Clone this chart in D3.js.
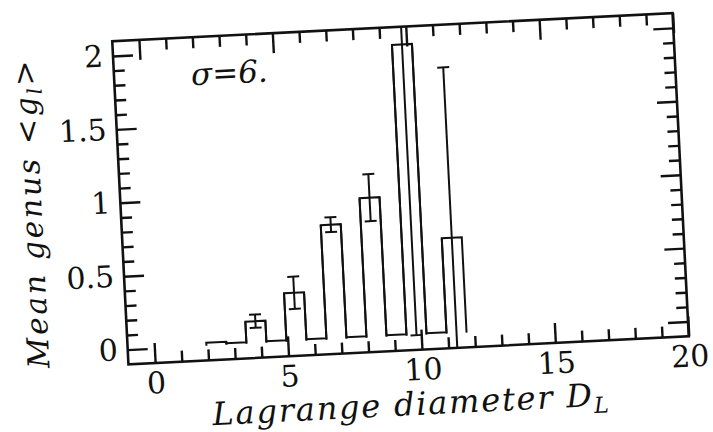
<!DOCTYPE html>
<html>
<head>
<meta charset="utf-8">
<script src="https://cdn.jsdelivr.net/npm/d3@7"></script>
<style>
  body { margin: 0; background: #fff; }
  text { font-family: "DejaVu Serif", serif; fill: #111; }
</style>
</head>
<body>
<svg id="chart" width="713" height="432"></svg>
<script>
// histogram bins along the Lagrange diameter
const binLo = [1.95, 2.7, 3.45, 4.2, 4.95, 5.7, 6.45, 7.2, 7.95, 8.7, 9.45, 10.2, 10.95];
const binHi = [2.7, 3.45, 4.2, 4.95, 5.7, 6.45, 7.2, 7.95, 8.7, 9.45, 10.2, 10.95, 11.7];
// mean genus per bin and its error
const meanGenus = [0.02, 0.01, 0.15, 0.01, 0.33, 0.01, 0.78, 0.01, 0.95, 0.01, 1.98, 0.01, 0.65];
const errGenus  = [0, 0, 0.045, 0, 0.11, 0, 0.05, 0, 0.16, 0, 1.98, 0, 1.16];
const xTickLabels = [0, 5, 10, 15, 20];
const yTickLabels = [0, 0.5, 1, 1.5, 2];

// scanned page is slightly tilted
const W = 561, H = 323.5,
      cx = 400.5, cy = 188.75,
      tilt = -2.87;

const svg = d3.select("#chart");
svg.append("rect").attr("width", 713).attr("height", 432).attr("fill", "#fff");

const g = svg.append("g")
    .attr("transform", `rotate(${tilt},${cx},${cy}) translate(${cx - W / 2},${cy - H / 2})`);

const x = d3.scaleLinear().domain([-1, 20]).range([0, W]);
const y = d3.scaleLinear().domain([-0.1, 2.1]).range([H, 0]);

//minor tick positions
const xMinor = d3.range(0, 20).filter(v => v % 5 !== 0);
const yMinor = d3.range(1, 21).map(v => v / 10).filter(v => Math.round(v * 10) % 5 !== 0);

function styleAxis(sel, fontSize) {
    sel.select(".domain").remove();
    sel.selectAll("line").attr("stroke", "#111").attr("stroke-width", 2.4);
    sel.attr("font-family", null).attr("font-size", fontSize);
    sel.selectAll("text").attr("fill", "#111");
}

//major axes (ticks inward)
g.append("g").attr("transform", `translate(0,${H})`)
    .call(d3.axisBottom(x).tickValues(xTickLabels).tickSize(-20).tickPadding(9).tickFormat(d3.format("d")))
    .call(s => styleAxis(s, 30));
g.append("g")
    .call(d3.axisTop(x).tickValues(xTickLabels).tickSize(-20).tickFormat(""))
    .call(s => styleAxis(s, 30));
g.append("g")
    .call(d3.axisLeft(y).tickValues(yTickLabels).tickSize(-20).tickPadding(10).tickFormat(d => String(d)))
    .call(s => styleAxis(s, 30));
g.append("g").attr("transform", `translate(${W},0)`)
    .call(d3.axisRight(y).tickValues(yTickLabels).tickSize(-20).tickFormat(""))
    .call(s => styleAxis(s, 30));

//minor axes
g.append("g").attr("transform", `translate(0,${H})`)
    .call(d3.axisBottom(x).tickValues(xMinor).tickSize(-11).tickFormat(""))
    .call(s => styleAxis(s, 30));
g.append("g")
    .call(d3.axisTop(x).tickValues(xMinor).tickSize(-11).tickFormat(""))
    .call(s => styleAxis(s, 30));
g.append("g")
    .call(d3.axisLeft(y).tickValues(yMinor).tickSize(-11).tickFormat(""))
    .call(s => styleAxis(s, 30));
g.append("g").attr("transform", `translate(${W},0)`)
    .call(d3.axisRight(y).tickValues(yMinor).tickSize(-11).tickFormat(""))
    .call(s => styleAxis(s, 30));

//frame
g.append("rect")
    .attr("width", W).attr("height", H)
    .attr("fill", "none").attr("stroke", "#111").attr("stroke-width", 2.6);

g.append("clipPath").attr("id", "plotClip")
  .append("rect").attr("width", W).attr("height", H);

const plot = g.append("g").attr("clip-path", "url(#plotClip)");

//histogram outline as one step line
const steps = [[binLo[0], 0]];
meanGenus.forEach((m, i) => {
    steps.push([binLo[i], m]);
    steps.push([binHi[i], m]);
});
steps.push([binHi[binHi.length - 1], 0]);

plot.append("path")
    .datum(steps)
    .attr("fill", "none")
    .attr("stroke", "#111")
    .attr("stroke-width", 2)
    .attr("d", d3.line().x(d => x(d[0])).y(d => y(d[1])));

//vertical edges between adjacent bins, down to zero
plot.selectAll(".edge")
  .data(binLo.slice(1))
  .join("line")
    .attr("class", "edge")
    .attr("x1", d => x(d)).attr("x2", d => x(d))
    .attr("y1", y(0))
    .attr("y2", (d, i) => y(Math.max(meanGenus[i], meanGenus[i + 1])))
    .attr("stroke", "#111").attr("stroke-width", 2);

//error bars
const errBins = meanGenus.map((m, i) => ({x: (binLo[i] + binHi[i]) / 2, m, e: errGenus[i]}))
    .filter(d => d.e > 0);
const cap = 6;
const eb = plot.selectAll(".err").data(errBins).join("g").attr("class", "err")
    .attr("stroke", "#111").attr("stroke-width", 2);
eb.append("line")
    .attr("x1", d => x(d.x)).attr("x2", d => x(d.x))
    .attr("y1", d => y(d.m - d.e)).attr("y2", d => y(d.m + d.e));
eb.append("line")
    .attr("x1", d => x(d.x) - cap).attr("x2", d => x(d.x) + cap)
    .attr("y1", d => y(d.m + d.e)).attr("y2", d => y(d.m + d.e));
eb.append("line")
    .attr("x1", d => x(d.x) - cap).attr("x2", d => x(d.x) + cap)
    .attr("y1", d => y(d.m - d.e)).attr("y2", d => y(d.m - d.e));

//annotation
g.append("text")
    .attr("x", 77).attr("y", 48)
    .attr("font-size", 31).attr("font-style", "italic")
    .text("σ=6.");

//axis titles
const xt = g.append("text")
    .attr("x", W / 2).attr("y", H + 65)
    .attr("text-anchor", "middle")
    .attr("font-size", 32).attr("font-style", "italic")
    .attr("letter-spacing", 1.8);
xt.append("tspan").text("Lagrange diameter D");
xt.append("tspan").attr("font-size", 22).attr("dy", 7).text("L");

const yt = g.append("text")
    .attr("transform", `translate(-79,${H / 2 + 6}) rotate(-90)`)
    .attr("text-anchor", "middle")
    .attr("font-size", 30).attr("font-style", "italic")
    .attr("letter-spacing", 2.6);
yt.append("tspan").text("Mean genus <g");
yt.append("tspan").attr("font-size", 20).attr("dy", 6).text("l");
yt.append("tspan").attr("dy", -6).text(">");
</script>
</body>
</html>
